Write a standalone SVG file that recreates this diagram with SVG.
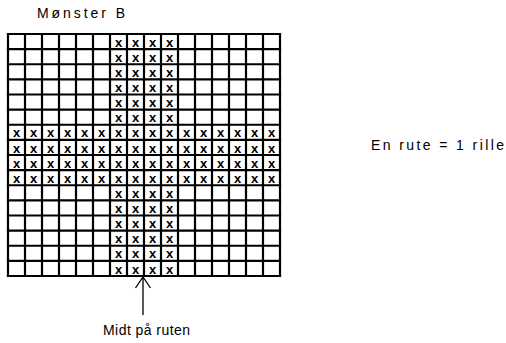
<svg xmlns="http://www.w3.org/2000/svg" width="506" height="343" viewBox="0 0 506 343">
<style>
.grid{stroke:#000;stroke-width:2.2;fill:none;stroke-linecap:square}
.x{font-family:"Liberation Sans",Arial,sans-serif;font-size:13px;font-weight:bold;text-anchor:middle;fill:#000}
.lbl{font-family:"Liberation Sans",Arial,sans-serif;font-size:14px;fill:#000}
.conn{stroke:#000;stroke-width:1.3;fill:none}
</style>
<rect width="506" height="343" fill="#fff"/>
<g id="title"><text class="lbl" x="37" y="18" textLength="88" lengthAdjust="spacing">Mønster B</text></g>
<g id="grid">
<path class="grid" d="M8,34V276M25,34V276M42,34V276M59,34V276M76,34V276M93,34V276M110,34V276M127,34V276M144,34V276M161,34V276M178,34V276M195,34V276M212,34V276M229,34V276M246,34V276M263,34V276M280,34V276"/>
<path class="grid" d="M8,34H280M8,49.125H280M8,64.25H280M8,79.375H280M8,94.5H280M8,109.625H280M8,124.75H280M8,139.875H280M8,155H280M8,170.125H280M8,185.25H280M8,200.375H280M8,215.5H280M8,230.625H280M8,245.75H280M8,260.875H280M8,276H280"/>
</g>
<g id="crosses">
<text class="x" x="118.5" y="46.6">x</text><text class="x" x="135.5" y="46.6">x</text><text class="x" x="152.5" y="46.6">x</text><text class="x" x="169.5" y="46.6">x</text>
<text class="x" x="118.5" y="61.7">x</text><text class="x" x="135.5" y="61.7">x</text><text class="x" x="152.5" y="61.7">x</text><text class="x" x="169.5" y="61.7">x</text>
<text class="x" x="118.5" y="76.9">x</text><text class="x" x="135.5" y="76.9">x</text><text class="x" x="152.5" y="76.9">x</text><text class="x" x="169.5" y="76.9">x</text>
<text class="x" x="118.5" y="92">x</text><text class="x" x="135.5" y="92">x</text><text class="x" x="152.5" y="92">x</text><text class="x" x="169.5" y="92">x</text>
<text class="x" x="118.5" y="107.1">x</text><text class="x" x="135.5" y="107.1">x</text><text class="x" x="152.5" y="107.1">x</text><text class="x" x="169.5" y="107.1">x</text>
<text class="x" x="118.5" y="122.2">x</text><text class="x" x="135.5" y="122.2">x</text><text class="x" x="152.5" y="122.2">x</text><text class="x" x="169.5" y="122.2">x</text>
<g id="row7">
<text class="x" x="16.5" y="137.4">x</text><text class="x" x="33.5" y="137.4">x</text><text class="x" x="50.5" y="137.4">x</text><text class="x" x="67.5" y="137.4">x</text><text class="x" x="84.5" y="137.4">x</text><text class="x" x="101.5" y="137.4">x</text><text class="x" x="118.5" y="137.4">x</text><text class="x" x="135.5" y="137.4">x</text><text class="x" x="152.5" y="137.4">x</text><text class="x" x="169.5" y="137.4">x</text><text class="x" x="186.5" y="137.4">x</text><text class="x" x="203.5" y="137.4">x</text><text class="x" x="220.5" y="137.4">x</text><text class="x" x="237.5" y="137.4">x</text><text class="x" x="254.5" y="137.4">x</text><text class="x" x="271.5" y="137.4">x</text>
</g>
<g id="row8">
<text class="x" x="16.5" y="152.5">x</text><text class="x" x="33.5" y="152.5">x</text><text class="x" x="50.5" y="152.5">x</text><text class="x" x="67.5" y="152.5">x</text><text class="x" x="84.5" y="152.5">x</text><text class="x" x="101.5" y="152.5">x</text><text class="x" x="118.5" y="152.5">x</text><text class="x" x="135.5" y="152.5">x</text><text class="x" x="152.5" y="152.5">x</text><text class="x" x="169.5" y="152.5">x</text><text class="x" x="186.5" y="152.5">x</text><text class="x" x="203.5" y="152.5">x</text><text class="x" x="220.5" y="152.5">x</text><text class="x" x="237.5" y="152.5">x</text><text class="x" x="254.5" y="152.5">x</text><text class="x" x="271.5" y="152.5">x</text>
</g>
<g id="row9">
<text class="x" x="16.5" y="167.6">x</text><text class="x" x="33.5" y="167.6">x</text><text class="x" x="50.5" y="167.6">x</text><text class="x" x="67.5" y="167.6">x</text><text class="x" x="84.5" y="167.6">x</text><text class="x" x="101.5" y="167.6">x</text><text class="x" x="118.5" y="167.6">x</text><text class="x" x="135.5" y="167.6">x</text><text class="x" x="152.5" y="167.6">x</text><text class="x" x="169.5" y="167.6">x</text><text class="x" x="186.5" y="167.6">x</text><text class="x" x="203.5" y="167.6">x</text><text class="x" x="220.5" y="167.6">x</text><text class="x" x="237.5" y="167.6">x</text><text class="x" x="254.5" y="167.6">x</text><text class="x" x="271.5" y="167.6">x</text>
</g>
<g id="row10">
<text class="x" x="16.5" y="182.7">x</text><text class="x" x="33.5" y="182.7">x</text><text class="x" x="50.5" y="182.7">x</text><text class="x" x="67.5" y="182.7">x</text><text class="x" x="84.5" y="182.7">x</text><text class="x" x="101.5" y="182.7">x</text><text class="x" x="118.5" y="182.7">x</text><text class="x" x="135.5" y="182.7">x</text><text class="x" x="152.5" y="182.7">x</text><text class="x" x="169.5" y="182.7">x</text><text class="x" x="186.5" y="182.7">x</text><text class="x" x="203.5" y="182.7">x</text><text class="x" x="220.5" y="182.7">x</text><text class="x" x="237.5" y="182.7">x</text><text class="x" x="254.5" y="182.7">x</text><text class="x" x="271.5" y="182.7">x</text>
</g>
<text class="x" x="118.5" y="197.9">x</text><text class="x" x="135.5" y="197.9">x</text><text class="x" x="152.5" y="197.9">x</text><text class="x" x="169.5" y="197.9">x</text>
<text class="x" x="118.5" y="213">x</text><text class="x" x="135.5" y="213">x</text><text class="x" x="152.5" y="213">x</text><text class="x" x="169.5" y="213">x</text>
<text class="x" x="118.5" y="228.1">x</text><text class="x" x="135.5" y="228.1">x</text><text class="x" x="152.5" y="228.1">x</text><text class="x" x="169.5" y="228.1">x</text>
<text class="x" x="118.5" y="243.2">x</text><text class="x" x="135.5" y="243.2">x</text><text class="x" x="152.5" y="243.2">x</text><text class="x" x="169.5" y="243.2">x</text>
<text class="x" x="118.5" y="258.4">x</text><text class="x" x="135.5" y="258.4">x</text><text class="x" x="152.5" y="258.4">x</text><text class="x" x="169.5" y="258.4">x</text>
<text class="x" x="118.5" y="273.5">x</text><text class="x" x="135.5" y="273.5">x</text><text class="x" x="152.5" y="273.5">x</text><text class="x" x="169.5" y="273.5">x</text>
</g>
<g id="connectors">
<path class="conn" d="M143,315V277M135.5,288L143,277L150.5,288"/>
</g>
<g id="label-midt"><text class="lbl" x="103" y="335" textLength="87" lengthAdjust="spacing">Midt på ruten</text></g>
<g id="label-rute"><text class="lbl" x="371" y="150" textLength="133" lengthAdjust="spacing">En rute = 1 rille</text></g>
</svg>
